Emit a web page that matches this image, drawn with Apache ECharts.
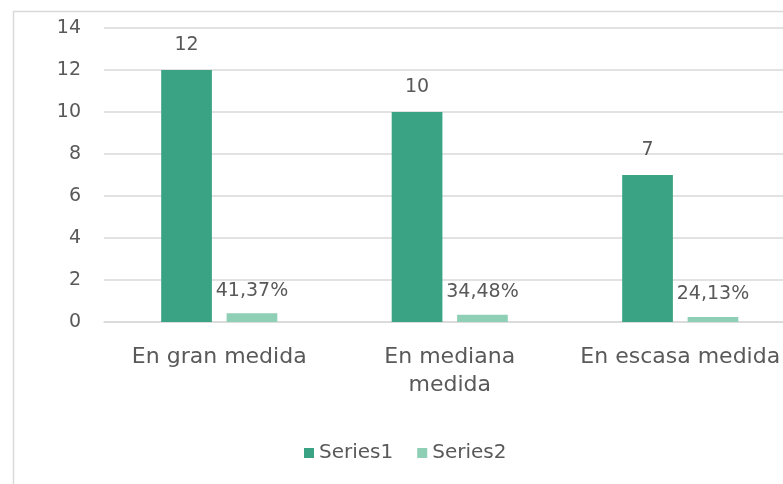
<!DOCTYPE html>
<html>
<head>
<meta charset="utf-8">
<script src="https://cdn.jsdelivr.net/npm/echarts@6/dist/echarts.min.js"></script>
<style>html,body{margin:0;padding:0;background:#fff}#c{width:783px;height:484px}</style>
</head>
<body>
<div id="c"></div>
<script>
const categories = ['En gran medida', 'En mediana\nmedida', 'En escasa medida'];
const series1 = [12, 10, 7];
const series2 = [0.4137, 0.3448, 0.2413];
const yTicks = { min: 0, max: 14, interval: 2 };

const FONT = 'DejaVu Sans';
const TXT = '#595959';
const chart = echarts.init(document.getElementById('c'));
chart.setOption({
  animation: false,
  textStyle: { fontFamily: FONT },
  graphic: [{
    type: 'rect', left: 11, top: 9, shape: { width: 800, height: 500 },
    style: { fill: 'none', stroke: '#d9d9d9', lineWidth: 1.5 }, silent: true
  }],
  grid: { left: 104, top: 28, width: 691.5, height: 294, outerBoundsMode: 'none', containLabel: false },
  legend: {
    top: 438, left: 299, itemWidth: 10, itemHeight: 10, itemGap: 24,
    icon: 'rect',
    textStyle: { color: TXT, fontSize: 20, fontFamily: FONT }
  },
  xAxis: {
    type: 'category', data: categories,
    axisLine: { lineStyle: { color: '#d9d9d9', width: 1.5 } },
    axisTick: { show: false },
    axisLabel: { color: TXT, fontSize: 22, fontFamily: FONT, margin: 21, lineHeight: 28, interval: 0 }
  },
  yAxis: {
    type: 'value', min: yTicks.min, max: yTicks.max, interval: yTicks.interval,
    axisLine: { show: false }, axisTick: { show: false },
    splitLine: { lineStyle: { color: '#d9d9d9', width: 1.5 } },
    axisLabel: { color: TXT, fontSize: 19, fontFamily: FONT, margin: 23 }
  },
  series: [{
    name: 'Series1', type: 'bar', data: series1, barWidth: '22%', barGap: '29%',
    itemStyle: { color: '#3AA384' },
    label: { show: true, position: 'top', distance: 15, color: TXT, fontSize: 19, fontFamily: FONT }
  }, {
    name: 'Series2', type: 'bar', data: series2, barWidth: '22%',
    itemStyle: { color: '#8ECFB6' },
    label: { show: true, position: 'top', distance: 13, color: TXT, fontSize: 19, fontFamily: FONT,
      formatter: p => (p.value * 100).toFixed(2).replace('.', ',') + '%' }
  }]
});
</script>
</body>
</html>
